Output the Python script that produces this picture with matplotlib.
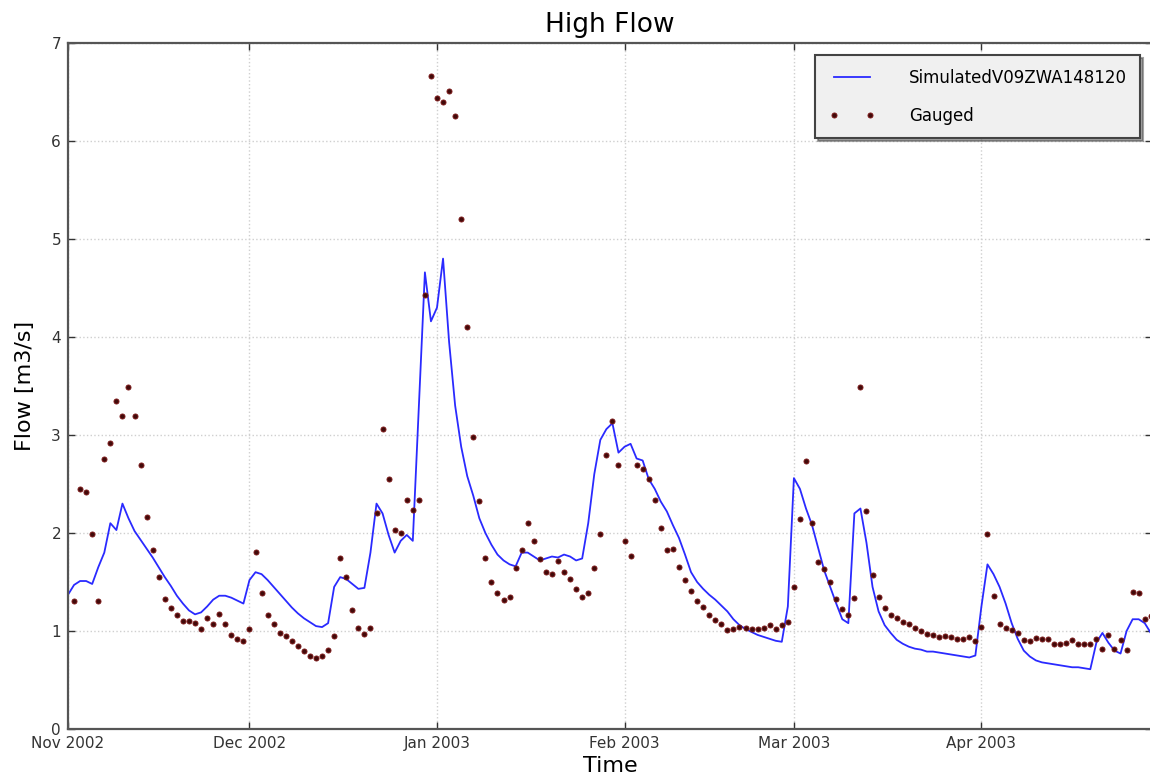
import numpy as np
import pandas as pd
import matplotlib
matplotlib.use("Agg")
import matplotlib.pyplot as plt
import matplotlib.dates as mdates

# ======== data ========
start = pd.Timestamp("2002-11-01")

# simulated flow, daily from Nov 1 2002
sim_flow = [
    1.37, 1.47, 1.51, 1.51, 1.48, 1.65, 1.80, 2.10, 2.03, 2.30,
    2.15, 2.02, 1.93, 1.84, 1.75, 1.65, 1.55, 1.46, 1.36, 1.28,
    1.21, 1.17, 1.19, 1.25, 1.32, 1.36, 1.36, 1.34, 1.31, 1.28,
    1.52, 1.60, 1.58, 1.52, 1.45, 1.38, 1.31, 1.24, 1.18, 1.13,
    1.09, 1.05, 1.04, 1.08, 1.45, 1.55, 1.53, 1.48, 1.43, 1.44,
    1.80, 2.30, 2.20, 1.98, 1.80, 1.92, 1.98, 1.92, 3.30, 4.66,
    4.16, 4.30, 4.80, 3.95, 3.30, 2.88, 2.58, 2.38, 2.15, 2.00,
    1.88, 1.78, 1.72, 1.68, 1.66, 1.80, 1.80, 1.76, 1.72, 1.74,
    1.76, 1.75, 1.78, 1.76, 1.72, 1.74, 2.10, 2.60, 2.95, 3.06,
    3.12, 2.82, 2.88, 2.91, 2.76, 2.74, 2.55, 2.45, 2.32, 2.22,
    2.08, 1.95, 1.78, 1.60, 1.50, 1.43, 1.37, 1.32, 1.26, 1.20,
    1.12, 1.06, 1.02, 0.99, 0.96, 0.94, 0.92, 0.90, 0.89, 1.25,
    2.56, 2.45, 2.25, 2.08, 1.85, 1.62, 1.45, 1.28, 1.12, 1.08,
    2.20, 2.25, 1.90, 1.45, 1.20, 1.06, 0.98, 0.91, 0.87, 0.84,
    0.82, 0.81, 0.79, 0.79, 0.78, 0.77, 0.76, 0.75, 0.74, 0.73,
    0.75, 1.25, 1.68, 1.58, 1.45, 1.28, 1.08, 0.92, 0.80, 0.74,
    0.70, 0.68, 0.67, 0.66, 0.65, 0.64, 0.63, 0.63, 0.62, 0.61,
    0.88, 0.98, 0.88, 0.80, 0.77, 1.00, 1.12, 1.12, 1.08, 0.98,
]

# gauged flow, daily from Nov 2 2002
gauged_flow = [
    1.31, 2.45, 2.42, 1.99, 1.31, 2.76, 2.92, 3.35, 3.19, 3.49,
    3.19, 2.69, 2.16, 1.83, 1.55, 1.33, 1.23, 1.16, 1.10, 1.10,
    1.08, 1.02, 1.13, 1.07, 1.17, 1.07, 0.96, 0.92, 0.90, 1.02,
    1.81, 1.39, 1.16, 1.07, 0.98, 0.95, 0.90, 0.85, 0.80, 0.75,
    0.72, 0.74, 0.81, 0.95, 1.74, 1.55, 1.21, 1.03, 0.97, 1.03,
    2.20, 3.06, 2.55, 2.03, 2.00, 2.34, 2.23, 2.34, 4.43, 6.66,
    6.44, 6.40, 6.51, 6.26, 5.20, 4.10, 2.98, 2.33, 1.74, 1.50,
    1.39, 1.32, 1.35, 1.64, 1.83, 2.10, 1.92, 1.73, 1.60, 1.58,
    1.71, 1.60, 1.53, 1.43, 1.35, 1.39, 1.64, 1.99, 2.80, 3.14,
    2.69, 1.92, 1.77, 2.69, 2.65, 2.55, 2.34, 2.05, 1.83, 1.84,
    1.65, 1.52, 1.41, 1.31, 1.25, 1.16, 1.11, 1.07, 1.01, 1.02,
    1.04, 1.03, 1.02, 1.02, 1.03, 1.06, 1.02, 1.06, 1.09, 1.45,
    2.14, 2.73, 2.10, 1.70, 1.63, 1.50, 1.33, 1.22, 1.16, 1.34,
    3.49, 2.22, 1.57, 1.35, 1.23, 1.16, 1.13, 1.09, 1.07, 1.03,
    1.00, 0.97, 0.96, 0.94, 0.95, 0.94, 0.92, 0.92, 0.94, 0.90,
    1.04, 1.99, 1.36, 1.07, 1.03, 1.01, 0.98, 0.91, 0.90, 0.93,
    0.92, 0.92, 0.87, 0.87, 0.88, 0.91, 0.87, 0.87, 0.87, 0.92,
    0.82, 0.96, 0.82, 0.91, 0.81, 1.40, 1.39, 1.12, 1.15,
]

sim_dates = pd.date_range(start, periods=len(sim_flow), freq="D")
gauged_dates = pd.date_range(start + pd.Timedelta(days=1), periods=len(gauged_flow), freq="D")

# ======== plot ========
W, H = 1150, 782
fig = plt.figure(figsize=(W / 100, H / 100), dpi=100)
ax = fig.add_axes([68 / W, 1 - 729 / H, 1084 / W, 686 / H])

ax.plot(sim_dates, sim_flow, color="#2a2aff", lw=1.3, label="SimulatedV09ZWA148120")
ax.plot(gauged_dates, gauged_flow, ls="none", marker="o", ms=3.6,
        mfc="#420a0a", mec="#7a1818", mew=0.7, label="Gauged")

ax.set_xlim(start, start + pd.Timedelta(days=179.2))
ax.set_ylim(0, 7)
ax.xaxis.set_major_locator(mdates.MonthLocator())
ax.xaxis.set_major_formatter(mdates.DateFormatter("%b %Y"))

ax.grid(True, color="#cfcfcf", ls=":", lw=1.0)
ax.tick_params(direction="in", length=5, width=1, top=True, right=True,
               labelsize=11, colors="#333333", pad=5)
for s in ax.spines.values():
    s.set_color("#555555")
    s.set_linewidth(1.6)

ax.set_title("High Flow", fontsize=19, pad=8)
ax.set_xlabel("Time", fontsize=16, labelpad=4)
ax.set_ylabel("Flow [m3/s]", fontsize=16, labelpad=12)

leg = ax.legend(loc="upper right", bbox_to_anchor=(0.989, 0.982), borderaxespad=0,
                fontsize=12, numpoints=2, handlelength=2.8, handletextpad=2.0,
                labelspacing=1.2, borderpad=0.8, shadow=True, fancybox=False)
leg.get_frame().set_facecolor("#f0f0f0")
leg.get_frame().set_edgecolor("#444444")
leg.get_frame().set_linewidth(1.5)
leg.get_frame().set_alpha(1)

plt.savefig("out.png", dpi=100)
